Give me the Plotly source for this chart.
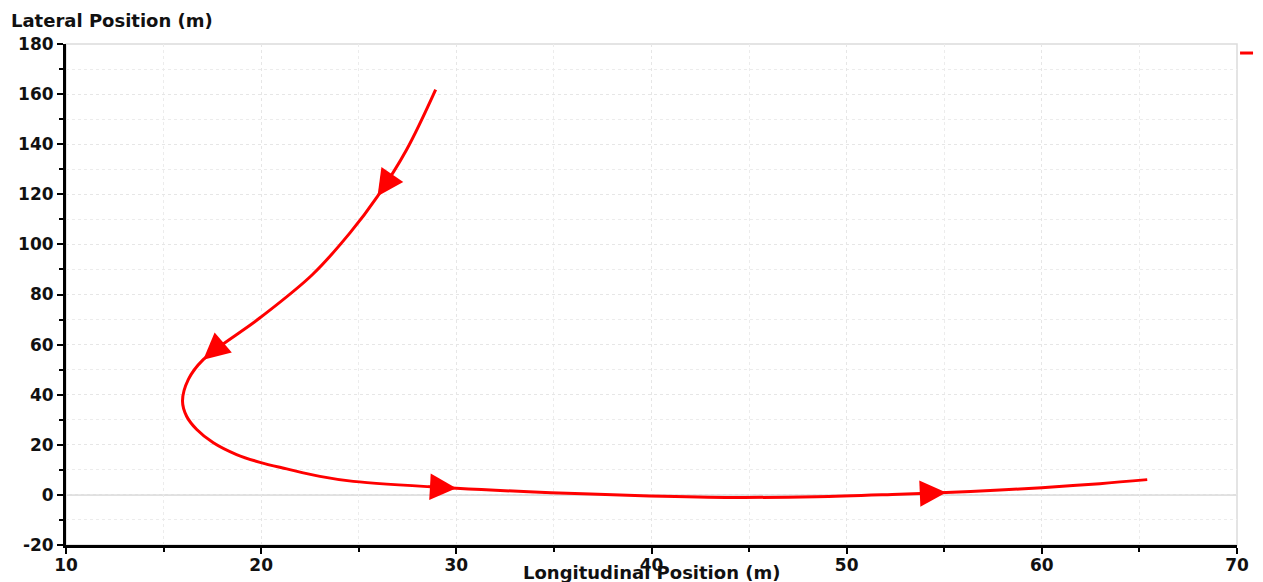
import plotly.graph_objects as go

# Trajectory (longitudinal x, lateral y)
long_pos = [28.94, 27.45, 25.96, 24.55, 22.62, 19.94, 17.03, 16.27, 15.97, 16.18, 16.7,
            17.55, 18.74, 19.94, 21.31, 23.01, 24.72, 30.0, 34.85, 39.9, 44.19, 48.45,
            52.7, 55.1, 57.85, 60.0, 62.97, 65.4]
lat_pos = [161.8, 137.8, 119.2, 104.6, 87.9, 70.7, 54.0, 46.1, 37.5, 31.4, 26.1,
           20.8, 16.1, 13.0, 10.4, 7.4, 5.4, 2.65, 0.9, -0.4, -1.0, -0.7,
           0.3, 0.95, 1.95, 2.9, 4.5, 6.1]
arrow_idx = [2, 6, 17, 23]

x_ticks = [10, 20, 30, 40, 50, 60, 70]
y_ticks = [-20, 0, 20, 40, 60, 80, 100, 120, 140, 160, 180]

RED = "#ff0000"
FONT = "DejaVu Sans"

fig = go.Figure()
fig.add_trace(go.Scatter(x=long_pos, y=lat_pos, mode="lines",
                         line=dict(color=RED, width=3, shape="spline", smoothing=1.0),
                         showlegend=False, hoverinfo="skip"))

annotations = []
for i in arrow_idx:
    dx = long_pos[i + 1] - long_pos[i - 1]
    dy = lat_pos[i + 1] - lat_pos[i - 1]
    annotations.append(dict(x=long_pos[i], y=lat_pos[i],
                            ax=long_pos[i] - 0.15 * dx, ay=lat_pos[i] - 0.15 * dy,
                            xref="x", yref="y", axref="x", ayref="y", text="",
                            showarrow=True, arrowhead=2, arrowsize=2.2, arrowwidth=2.4,
                            arrowcolor=RED, standoff=0, startstandoff=0))
annotations.append(dict(text="<b>Lateral Position (m)</b>", xref="paper", yref="paper",
                        x=-0.0487, y=1.046, showarrow=False,
                        font=dict(family=FONT, size=18, color="#111"),
                        xanchor="left", yanchor="middle"))
annotations.append(dict(text="<b>Longitudinal Position (m)</b>", xref="paper", yref="paper",
                        x=0.4996, y=-0.054, showarrow=False,
                        font=dict(family=FONT, size=18, color="#111"),
                        xanchor="center", yanchor="middle"))

axis_common = dict(
    showline=True, linecolor="black", linewidth=3,
    ticks="outside", ticklen=6, tickwidth=2, tickcolor="black",
    showgrid=True, gridcolor="#e6e6e6", griddash="dot", gridwidth=1,
    tickfont=dict(family=FONT, size=17, color="#111", weight="bold"),
    zeroline=False, automargin=False,
)

fig.update_xaxes(range=[10, 70], tickvals=x_ticks, ticktext=[str(v) for v in x_ticks],
                 ticklabelstandoff=-3,
                 minor=dict(dtick=5, tick0=0, ticks="outside", ticklen=4, tickwidth=2,
                            tickcolor="black", showgrid=True, gridcolor="#ececec", griddash="dot"),
                 **axis_common)
fig.update_yaxes(range=[-20, 180], tickvals=y_ticks, ticktext=[str(v) for v in y_ticks],
                 minor=dict(dtick=10, tick0=0, ticks="outside", ticklen=4, tickwidth=2,
                            tickcolor="black", showgrid=True, gridcolor="#ececec", griddash="dot"),
                 **axis_common)

shapes = [
    dict(type="rect", xref="paper", yref="paper", x0=0, x1=1, y0=0, y1=1,
         line=dict(color="#dcdcdc", width=1.5), layer="below"),
    dict(type="line", xref="x", yref="y", x0=10, x1=70, y0=0, y1=0,
         line=dict(color="#e0e0e0", width=2), layer="below"),
    # legend swatch
    dict(type="line", xref="paper", yref="paper", x0=1.0026, x1=1.0137, y0=0.982, y1=0.982,
         line=dict(color=RED, width=3)),
]

# page body has an 8px margin, so the figure is shifted by (8, 8)
fig.update_layout(
    width=1255, height=574,
    margin=dict(l=58, r=26, t=36, b=37),
    plot_bgcolor="white", paper_bgcolor="white",
    annotations=annotations, shapes=shapes,
    showlegend=False,
)

fig.write_html("out.html")
